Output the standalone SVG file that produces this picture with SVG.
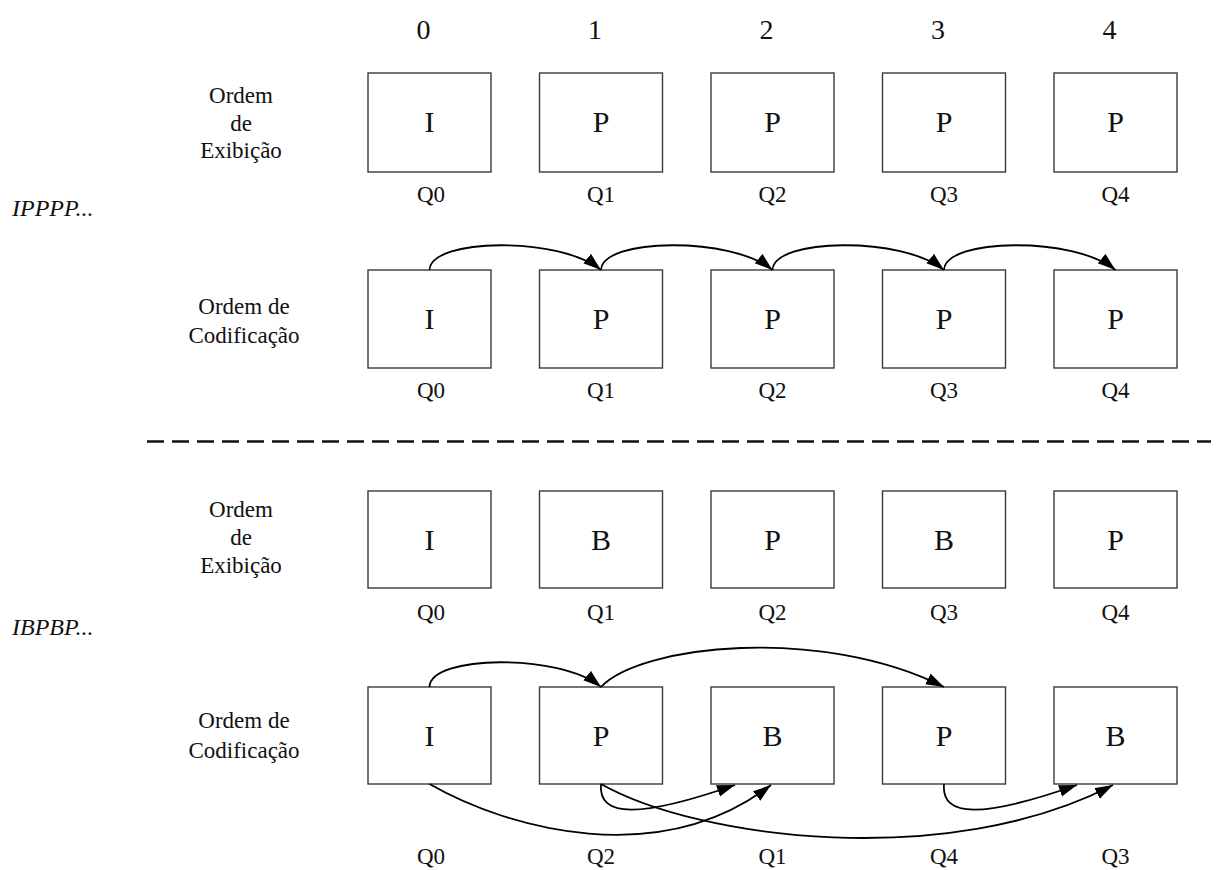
<svg xmlns="http://www.w3.org/2000/svg" width="1217" height="870" viewBox="0 0 1217 870">
<style>
.box{fill:#fff;stroke:#3a3a3a;stroke-width:1.4}
.t{font-family:"Liberation Serif","Times New Roman",serif;fill:#111;text-anchor:middle}
.num{font-size:28px}
.big{font-size:30px}
.q{font-size:23px}
.lbl{font-size:23px}
.it{font-family:"Liberation Serif","Times New Roman",serif;font-style:italic;font-size:24px;fill:#111}
.c{fill:none;stroke:#000;stroke-width:1.8;marker-end:url(#ah)}
</style>
<defs>
<marker id="ah" markerUnits="userSpaceOnUse" markerWidth="20" markerHeight="14" refX="18" refY="6" orient="auto">
<path d="M0,0 L18,6 L0,12 Z" fill="#000"/>
</marker>
</defs>
<rect width="1217" height="870" fill="#fff"/>

<g id="header">
<text class="t num" x="423.5" y="39">0</text>
<text class="t num" x="595" y="39">1</text>
<text class="t num" x="766.5" y="39">2</text>
<text class="t num" x="938" y="39">3</text>
<text class="t num" x="1109.5" y="39">4</text>
</g>

<g id="labels">
<text class="t lbl" x="241" y="103">Ordem</text>
<text class="t lbl" x="241" y="131">de</text>
<text class="t lbl" x="241" y="158">Exibição</text>
<text class="it" x="12" y="216">IPPPP...</text>
<text class="t lbl" x="244" y="314">Ordem de</text>
<text class="t lbl" x="244" y="343">Codificação</text>
<text class="t lbl" x="241" y="517">Ordem</text>
<text class="t lbl" x="241" y="545">de</text>
<text class="t lbl" x="241" y="573">Exibição</text>
<text class="it" x="12" y="635">IBPBP...</text>
<text class="t lbl" x="244" y="728">Ordem de</text>
<text class="t lbl" x="244" y="758">Codificação</text>
</g>

<g id="row1">
<g id="r1n0"><rect class="box" x="368" y="73" width="123" height="99"/><text class="t big" x="429.5" y="132">I</text><text class="t q" x="431" y="202">Q0</text></g>
<g id="r1n1"><rect class="box" x="539.5" y="73" width="123" height="99"/><text class="t big" x="601" y="132">P</text><text class="t q" x="601" y="202">Q1</text></g>
<g id="r1n2"><rect class="box" x="711" y="73" width="123" height="99"/><text class="t big" x="772.5" y="132">P</text><text class="t q" x="772.5" y="202">Q2</text></g>
<g id="r1n3"><rect class="box" x="882.5" y="73" width="123" height="99"/><text class="t big" x="944" y="132">P</text><text class="t q" x="944" y="202">Q3</text></g>
<g id="r1n4"><rect class="box" x="1054" y="73" width="123" height="99"/><text class="t big" x="1115.5" y="132">P</text><text class="t q" x="1115.5" y="202">Q4</text></g>
</g>

<g id="row2">
<g id="r2n0"><rect class="box" x="368" y="270" width="123" height="98"/><text class="t big" x="429.5" y="329">I</text><text class="t q" x="431" y="398">Q0</text></g>
<g id="r2n1"><rect class="box" x="539.5" y="270" width="123" height="98"/><text class="t big" x="601" y="329">P</text><text class="t q" x="601" y="398">Q1</text></g>
<g id="r2n2"><rect class="box" x="711" y="270" width="123" height="98"/><text class="t big" x="772.5" y="329">P</text><text class="t q" x="772.5" y="398">Q2</text></g>
<g id="r2n3"><rect class="box" x="882.5" y="270" width="123" height="98"/><text class="t big" x="944" y="329">P</text><text class="t q" x="944" y="398">Q3</text></g>
<g id="r2n4"><rect class="box" x="1054" y="270" width="123" height="98"/><text class="t big" x="1115.5" y="329">P</text><text class="t q" x="1115.5" y="398">Q4</text></g>
</g>

<g id="divider">
<line x1="147" y1="441.5" x2="1211" y2="441.5" stroke="#111" stroke-width="2.6" stroke-dasharray="17 8"/>
</g>

<g id="row3">
<g id="r3n0"><rect class="box" x="368" y="491" width="123" height="97"/><text class="t big" x="429.5" y="550">I</text><text class="t q" x="431" y="620">Q0</text></g>
<g id="r3n1"><rect class="box" x="539.5" y="491" width="123" height="97"/><text class="t big" x="601" y="550">B</text><text class="t q" x="601" y="620">Q1</text></g>
<g id="r3n2"><rect class="box" x="711" y="491" width="123" height="97"/><text class="t big" x="772.5" y="550">P</text><text class="t q" x="772.5" y="620">Q2</text></g>
<g id="r3n3"><rect class="box" x="882.5" y="491" width="123" height="97"/><text class="t big" x="944" y="550">B</text><text class="t q" x="944" y="620">Q3</text></g>
<g id="r3n4"><rect class="box" x="1054" y="491" width="123" height="97"/><text class="t big" x="1115.5" y="550">P</text><text class="t q" x="1115.5" y="620">Q4</text></g>
</g>

<g id="row4">
<g id="r4n0"><rect class="box" x="368" y="687" width="123" height="97"/><text class="t big" x="429.5" y="746">I</text><text class="t q" x="431" y="864">Q0</text></g>
<g id="r4n1"><rect class="box" x="539.5" y="687" width="123" height="97"/><text class="t big" x="601" y="746">P</text><text class="t q" x="601" y="864">Q2</text></g>
<g id="r4n2"><rect class="box" x="711" y="687" width="123" height="97"/><text class="t big" x="772.5" y="746">B</text><text class="t q" x="772.5" y="864">Q1</text></g>
<g id="r4n3"><rect class="box" x="882.5" y="687" width="123" height="97"/><text class="t big" x="944" y="746">P</text><text class="t q" x="944" y="864">Q4</text></g>
<g id="r4n4"><rect class="box" x="1054" y="687" width="123" height="97"/><text class="t big" x="1115.5" y="746">B</text><text class="t q" x="1115.5" y="864">Q3</text></g>
</g>

<g id="connectors">
<path class="c" d="M429.5,270 C430,238 560,236 601,270"/>
<path class="c" d="M601,270 C601.5,238 731.5,236 772.5,270"/>
<path class="c" d="M772.5,270 C773,238 903,236 944,270"/>
<path class="c" d="M944,270 C944.5,238 1074.5,236 1115.5,270"/>

<path class="c" d="M429.5,687 C430,655 560,653 601,687"/>
<path class="c" d="M601,687 C640,645 820,625 944,687"/>
<path class="c" d="M429.5,784 C510,830 660,870 771,785"/>
<path class="c" d="M601,784 C598,818 640,818 735,785"/>
<path class="c" d="M601,784 C700,840 950,870 1113,785"/>
<path class="c" d="M944,784 C941,818 983,818 1077,785"/>
</g>
</svg>
